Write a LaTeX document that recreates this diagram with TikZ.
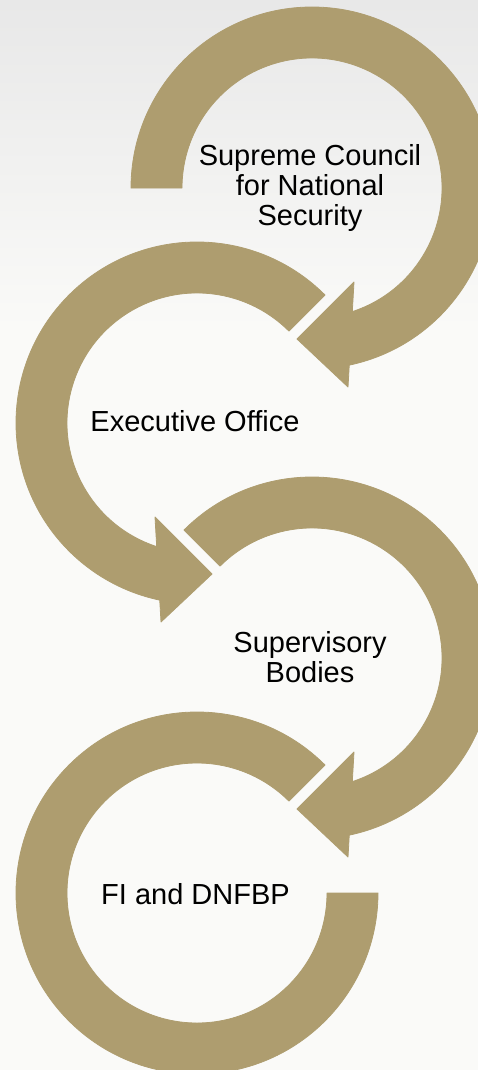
\documentclass[tikz,border=0pt]{standalone}
\usepackage{fontspec}
\setmainfont{Liberation Sans}
\definecolor{arrowgold}{RGB}{174,157,111}
\definecolor{paper}{RGB}{250,250,248}
\definecolor{haze}{RGB}{232,232,232}
\begin{document}
\begin{tikzpicture}[x=1pt,y=1pt]
                \tikzstyle{every node}+=[inner sep=0pt]
                \tikzstyle{band}=[fill=arrowgold, draw=arrowgold, line width=0.8pt, line join=round]
                \tikzstyle{stagetext}=[font=\fontsize{29}{30}\selectfont, align=center, anchor=base]
                \useasboundingbox (0,0) rectangle (478,-1070);
                \clip (0,0) rectangle (478,-1070);
                \fill [paper] (0,0) rectangle (478,-1070);
                \shade [top color=haze, bottom color=paper] (0,0) rectangle (478,-330);
                \coordinate (c1) at (312,-188);
                \coordinate (c2) at (197,-423);
                \coordinate (c3) at (312,-658);
                \coordinate (c4) at (197,-893);
                % clockwise rings, arrow at the lower left
                \begin{scope}[shift={(c1)}]
                \draw [band] (180:130) -- (180:181) arc[start angle=180, end angle=-78.12, radius=181] -- (36,-199) -- (-15,-151) -- (42,-94) -- (-71.94:130) arc[start angle=-71.94, end angle=180, radius=130] -- cycle;
                \end{scope}
                \begin{scope}[shift={(c3)}]
                \draw [band] (135:130) -- (135:181) arc[start angle=135, end angle=-78.12, radius=181] -- (36,-199) -- (-15,-151) -- (42,-94) -- (-71.94:130) arc[start angle=-71.94, end angle=135, radius=130] -- cycle;
                \end{scope}
                % counter-clockwise rings
                \begin{scope}[shift={(c2)}]
                \draw [band] (45:130) -- (45:181) arc[start angle=45, end angle=258.12, radius=181] -- (-36,-199) -- (15,-151) -- (-42,-94) -- (251.94:130) arc[start angle=251.94, end angle=45, radius=130] -- cycle;
                \end{scope}
                \begin{scope}[shift={(c4)}]
                \draw [band] (45:130) -- (45:181) arc[start angle=45, end angle=360, radius=181] -- (0:130) arc[start angle=360, end angle=45, radius=130] -- cycle;
                \end{scope}
                % base anchor sits on the last line
                \node [stagetext] (council) at (310,-225) {Supreme Council\\for National\\Security};
                \node [stagetext] (office) at (195,-431) {Executive Office};
                \node [stagetext] (supervisors) at (310,-682) {Supervisory\\Bodies};
                \node [stagetext] (entities) at (195.5,-904) {FI and DNFBP};
\end{tikzpicture}
\end{document}
